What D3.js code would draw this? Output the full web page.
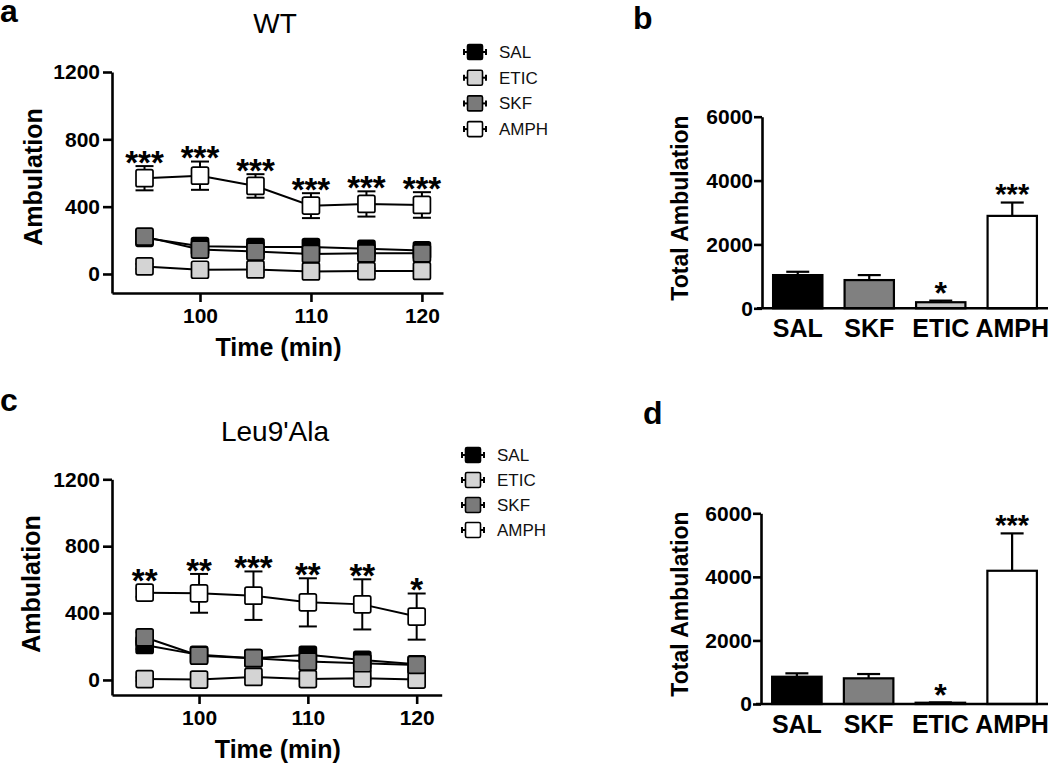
<!DOCTYPE html>
<html>
<head>
<meta charset="utf-8">
<script src="https://cdn.jsdelivr.net/npm/d3@7"></script>
<style>
  html, body { margin: 0; padding: 0; background: #fff; }
  svg { display: block; font-family: "Liberation Sans", Arial, sans-serif; }
</style>
</head>
<body>
<svg id="chart" width="1050" height="770"></svg>
<script>
// ---------- DATA ----------
const times = [95, 100, 105, 110, 115, 120];
const groups = ["SAL", "ETIC", "SKF", "AMPH"];

// Panel a (WT) – time course
const wtSAL = [215, 165, 160, 160, 150, 140];
const wtSALsem = [25, 25, 25, 25, 25, 25];
const wtETIC = [45, 25, 27, 15, 17, 18];
const wtETICsem = [15, 15, 15, 15, 15, 15];
const wtSKF = [222, 145, 133, 119, 123, 123];
const wtSKFsem = [30, 30, 30, 30, 30, 30];
const wtAMPH = [569, 584, 523, 406, 416, 410];
const wtAMPHsem = [72, 84, 70, 74, 75, 76];
const wtStars = ["***", "***", "***", "***", "***", "***"];

// Panel c (Leu9'Ala) – time course
const leuSAL = [209, 150, 130, 150, 120, 94];
const leuSALsem = [25, 25, 25, 25, 25, 25];
const leuETIC = [5, 2, 18, 5, 10, 2];
const leuETICsem = [10, 10, 10, 10, 10, 10];
const leuSKF = [255, 145, 130, 110, 100, 90];
const leuSKFsem = [30, 30, 30, 30, 30, 30];
const leuAMPH = [522, 518, 504, 464, 452, 379];
const leuAMPHsem = [25, 116, 145, 144, 150, 138];
const leuStars = ["**", "**", "***", "**", "**", "*"];

// Panels b, d – totals
const barCats = ["SAL", "SKF", "ETIC", "AMPH"];
const wtTotal = [1040, 884, 190, 2894];
const wtTotalSem = [104, 156, 50, 418];
const wtTotalStars = ["", "", "*", "***"];
const leuTotal = [858, 808, 40, 4192];
const leuTotalSem = [107, 135, 10, 1176];
const leuTotalStars = ["", "", "*", "***"];

const yTicksLine = [0, 400, 800, 1200];
const xTicksLine = [100, 110, 120];
const yTicksBar = [0, 2000, 4000, 6000];

// ---------- STYLE ----------
const markerFill = { SAL: "#000000", ETIC: "#d4d4d4", SKF: "#7a7a7a", AMPH: "#ffffff" };
const barFill = { SAL: "#000000", SKF: "#808080", ETIC: "#c8c8c8", AMPH: "#ffffff" };
const FONT = '"Liberation Sans", Arial, sans-serif';
const fmt = d3.format("d");

const svg = d3.select("#chart");

function panelLetter(txt, x, y) {
  svg.append("text").attr("x", x).attr("y", y)
    .attr("font-size", 32).attr("font-weight", "bold").text(txt);
}

function linePanel(cfg) {
  const g = svg.append("g");
  const x = d3.scaleLinear().domain(cfg.xDomain).range(cfg.xRange);
  const y = d3.scaleLinear().domain(cfg.yDomain).range(cfg.yRange);

  // title
  g.append("text").attr("x", cfg.titleX).attr("y", cfg.titleY)
    .attr("text-anchor", "middle").attr("font-size", 28).text(cfg.title);

  // axes
  const ya = g.append("g").attr("transform", `translate(${cfg.xRange[0]},0)`)
    .call(d3.axisLeft(y).tickValues(yTicksLine).tickFormat(fmt).tickSize(9).tickSizeOuter(0).tickPadding(3));
  const xa = g.append("g").attr("transform", `translate(0,${cfg.yRange[0]})`)
    .call(d3.axisBottom(x).tickValues(xTicksLine).tickFormat(fmt).tickSize(9).tickSizeOuter(0).tickPadding(6));
  [ya, xa].forEach(a => {
    a.selectAll("path,line").attr("stroke", "#000").attr("stroke-width", 2.6);
    a.selectAll("text").attr("font-size", 21).attr("font-weight", "bold")
      .attr("font-family", FONT).attr("fill", "#000");
  });

  // axis titles
  g.append("text").attr("transform", `translate(${cfg.yLabelX},${cfg.yLabelY}) rotate(-90)`)
    .attr("text-anchor", "middle").attr("font-size", 25).attr("font-weight", "bold").text("Ambulation");
  g.append("text").attr("x", (cfg.xRange[0] + cfg.xRange[1]) / 2 + 1).attr("y", cfg.yRange[0] + 63)
    .attr("text-anchor", "middle").attr("font-size", 25).attr("font-weight", "bold").text("Time (min)");

  const half = 8.5, cap = 9;
  cfg.series.forEach(s => {
    const pts = times.map((t, i) => ({ t, v: s.values[i], e: s.sem[i] }));
    const sg = g.append("g");
    // error bars
    pts.forEach(p => {
      const x0 = x(p.t), yt = y(p.v + p.e), yb = y(p.v - p.e);
      sg.append("line").attr("x1", x0).attr("x2", x0).attr("y1", yt).attr("y2", yb)
        .attr("stroke", "#000").attr("stroke-width", 2);
      [yt, yb].forEach(yy => sg.append("line").attr("x1", x0 - cap).attr("x2", x0 + cap)
        .attr("y1", yy).attr("y2", yy).attr("stroke", "#000").attr("stroke-width", 2));
    });
    // line
    sg.append("path").datum(pts)
      .attr("d", d3.line().x(d => x(d.t)).y(d => y(d.v)))
      .attr("fill", "none").attr("stroke", "#000").attr("stroke-width", 2);
    // markers
    sg.selectAll("rect").data(pts).join("rect")
      .attr("x", d => x(d.t) - half).attr("y", d => y(d.v) - half)
      .attr("width", half * 2).attr("height", half * 2).attr("rx", 1.8)
      .attr("fill", markerFill[s.name]).attr("stroke", "#000").attr("stroke-width", 1.7);
  });

  // significance stars
  const amph = cfg.series.find(s => s.name === "AMPH");
  times.forEach((t, i) => {
    const top = Math.min(y(amph.values[i] + amph.sem[i]), y(amph.values[i]) - half);
    const fs = 33;
    g.append("text").attr("x", x(t)).attr("y", top - 11.5 + 0.58 * fs)
      .attr("text-anchor", "middle").attr("font-size", fs).attr("font-weight", "bold")
      .text(cfg.stars[i]);
  });

  // legend
  groups.forEach((name, i) => {
    const ly = cfg.legendY + i * cfg.legendStep;
    const lx = cfg.legendX;
    const lg = g.append("g");
    lg.append("line").attr("x1", lx - 11).attr("x2", lx + 11).attr("y1", ly).attr("y2", ly)
      .attr("stroke", "#000").attr("stroke-width", 2);
    [lx - 11, lx + 11].forEach(xx => lg.append("line").attr("x1", xx).attr("x2", xx)
      .attr("y1", ly - 3).attr("y2", ly + 3).attr("stroke", "#000").attr("stroke-width", 2));
    lg.append("rect").attr("x", lx - 7.5).attr("y", ly - 7.5).attr("width", 15).attr("height", 15)
      .attr("rx", 1.5).attr("fill", markerFill[name]).attr("stroke", "#000").attr("stroke-width", 1.6);
    lg.append("text").attr("x", lx + 24).attr("y", ly + 6).attr("font-size", 17)
      .attr("fill", "#111").text(name);
  });
}

function barPanel(cfg) {
  const g = svg.append("g");
  const x = d3.scaleBand().domain(barCats).range(cfg.xRange).paddingInner(0.31).paddingOuter(0.155);
  const y = d3.scaleLinear().domain([0, 6000]).range(cfg.yRange);

  const ya = g.append("g").attr("transform", `translate(${cfg.xRange[0]},0)`)
    .call(d3.axisLeft(y).tickValues(yTicksBar).tickFormat(fmt).tickSize(8).tickSizeOuter(0).tickPadding(1));
  ya.selectAll("path,line").attr("stroke", "#000").attr("stroke-width", 2.6);
  ya.selectAll("text").attr("font-size", 21).attr("font-weight", "bold")
    .attr("font-family", FONT).attr("fill", "#000");

  g.append("text").attr("transform", `translate(${cfg.yLabelX},${cfg.yLabelY}) rotate(-90)`)
    .attr("text-anchor", "middle").attr("font-size", 23).attr("font-weight", "bold").text("Total Ambulation");

  const vals = cfg.values, sems = cfg.sem;
  const bw = x.bandwidth();
  barCats.forEach((c, i) => {
    const x0 = x(c), xc = x0 + bw / 2;
    const yt = y(vals[i]), ye = y(vals[i] + sems[i]);
    g.append("line").attr("x1", xc).attr("x2", xc).attr("y1", yt).attr("y2", ye)
      .attr("stroke", "#000").attr("stroke-width", 2.2);
    g.append("line").attr("x1", xc - 11.5).attr("x2", xc + 11.5).attr("y1", ye).attr("y2", ye)
      .attr("stroke", "#000").attr("stroke-width", 2.2);
    g.append("rect").attr("x", x0).attr("y", yt).attr("width", bw).attr("height", y(0) - yt)
      .attr("fill", barFill[c]).attr("stroke", "#000").attr("stroke-width", 2.2);
    if (cfg.stars[i]) {
      const fs = cfg.stars[i].length > 1 ? 29 : 32;
      g.append("text").attr("x", xc).attr("y", ye - 15 + 0.58 * fs)
        .attr("text-anchor", "middle").attr("font-size", fs).attr("font-weight", "bold")
        .text(cfg.stars[i]);
    }
    g.append("text").attr("x", xc).attr("y", y(0) + 29).attr("text-anchor", "middle")
      .attr("font-size", 25).attr("font-weight", "bold").text(c);
  });
  // baseline (x axis)
  g.append("line").attr("x1", cfg.xRange[0] - 5).attr("x2", cfg.xRange[1])
    .attr("y1", y(0)).attr("y2", y(0)).attr("stroke", "#000").attr("stroke-width", 2.6);
}

// ---------- PANELS ----------
panelLetter("a", 0, 22);
panelLetter("b", 633, 29);
panelLetter("c", 0, 411);
panelLetter("d", 643, 424);

linePanel({
  title: "WT", titleX: 275, titleY: 33,
  xDomain: [92.07, 121.9], xRange: [112, 443],
  yDomain: [-113, 1200], yRange: [293, 72],
  yLabelX: 42, yLabelY: 177,
  legendX: 475, legendY: 52, legendStep: 25.7,
  stars: wtStars,
  series: [
    { name: "SAL", values: wtSAL, sem: wtSALsem },
    { name: "ETIC", values: wtETIC, sem: wtETICsem },
    { name: "SKF", values: wtSKF, sem: wtSKFsem },
    { name: "AMPH", values: wtAMPH, sem: wtAMPHsem }
  ]
});

linePanel({
  title: "Leu9'Ala", titleX: 275, titleY: 441,
  xDomain: [92, 122.3], xRange: [112, 441.7],
  yDomain: [-90, 1200], yRange: [695, 479.3],
  yLabelX: 40, yLabelY: 584,
  legendX: 473, legendY: 455, legendStep: 25,
  stars: leuStars,
  series: [
    { name: "SAL", values: leuSAL, sem: leuSALsem },
    { name: "ETIC", values: leuETIC, sem: leuETICsem },
    { name: "SKF", values: leuSKF, sem: leuSKFsem },
    { name: "AMPH", values: leuAMPH, sem: leuAMPHsem }
  ]
});

barPanel({
  xRange: [762, 1048], yRange: [308.3, 116.7],
  yLabelX: 688, yLabelY: 208,
  values: wtTotal, sem: wtTotalSem, stars: wtTotalStars
});

barPanel({
  xRange: [761, 1048], yRange: [704, 513.3],
  yLabelX: 688, yLabelY: 604,
  values: leuTotal, sem: leuTotalSem, stars: leuTotalStars
});
</script>
</body>
</html>
